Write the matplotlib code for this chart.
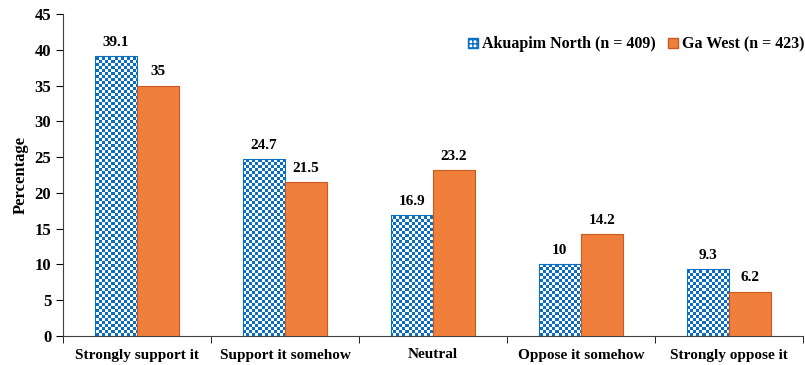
import numpy as np
import matplotlib.pyplot as plt
from matplotlib.patches import Patch

plt.rcParams['font.family'] = ['Liberation Serif', 'DejaVu Serif']
plt.rcParams['font.weight'] = 'bold'

categories = ['Strongly support it', 'Support it somehow', 'Neutral',
              'Oppose it somehow', 'Strongly oppose it']
akuapim = [39.1, 24.7, 16.9, 10, 9.3]
ga_west = [35, 21.5, 23.2, 14.2, 6.2]
series_names = ['Akuapim North (n = 409)', 'Ga West (n = 423)']

blue = '#0A6FC2'
orange = '#F07F3C'

W, H = 805, 365
fig = plt.figure(figsize=(W / 100, H / 100), dpi=100)
# axes box in whole pixels so the checker cells land on the pixel grid
ax = fig.add_axes([63 / W, 29 / H, 740 / W, 322 / H])

x = np.arange(len(categories))
w = 0.285

bars_a = ax.bar(x - w / 2, akuapim, w, facecolor='none', edgecolor=blue, linewidth=0.8, zorder=3)
bars_g = ax.bar(x + w / 2, ga_west, w, color=orange, edgecolor='#C85A1E', linewidth=0.8, zorder=3)

# checkerboard fill for the first series, clipped to each bar (3 px cells)
nx, ny = 740 // 3 + 1, 322 // 3 + 1
checker = ((np.arange(ny)[:, None] + np.arange(nx)[None, :]) % 2).astype(float)
cmap = plt.matplotlib.colors.ListedColormap(['white', blue])
for b in bars_a:
    im = ax.imshow(checker, cmap=cmap, interpolation='nearest', aspect='auto', origin='lower',
                   extent=[-0.5, -0.5 + nx * 3 / 148, 0, ny * 3 * 45 / 322], zorder=2)
    im.set_clip_path(b)

for xs, vals in [(x - w / 2, akuapim), (x + w / 2, ga_west)]:
    for xi, v in zip(xs, vals):
        ax.text(xi, v + 1.0, f'{v:g}', ha='center', va='bottom', fontsize=11, fontweight='bold')

ax.set_xlim(-0.5, len(categories) - 0.5)
ax.set_ylim(0, 45)
ax.set_yticks(np.arange(0, 46, 5))
ax.set_xticks(x)
ax.set_xticklabels(categories, fontsize=11, fontweight='bold')
ax.set_xticks(np.arange(-0.5, len(categories), 1), minor=True)
ax.tick_params(axis='x', which='major', length=0, pad=9)
ax.tick_params(axis='x', which='minor', length=5, direction='out')
ax.tick_params(axis='y', labelsize=12, length=5, direction='out')
for lab in ax.get_yticklabels():
    lab.set_fontweight('bold')
ax.set_ylabel('Percentage', fontsize=12, fontweight='bold')

for s in ['top', 'right']:
    ax.spines[s].set_visible(False)
for s in ['left', 'bottom']:
    ax.spines[s].set_color('#404040')

plt.rcParams['hatch.color'] = blue
handles = [Patch(facecolor='white', edgecolor=blue, hatch='++++'),
           Patch(facecolor=orange, edgecolor='#C85A1E')]
ax.legend(handles, series_names, loc='upper right', bbox_to_anchor=(1.021, 0.975), ncol=2,
          frameon=False, handlelength=0.6, handleheight=0.6,
          handletextpad=0.25, columnspacing=0.8, prop={'weight': 'bold', 'size': 11.5})

fig.savefig('out.png', dpi=100)
